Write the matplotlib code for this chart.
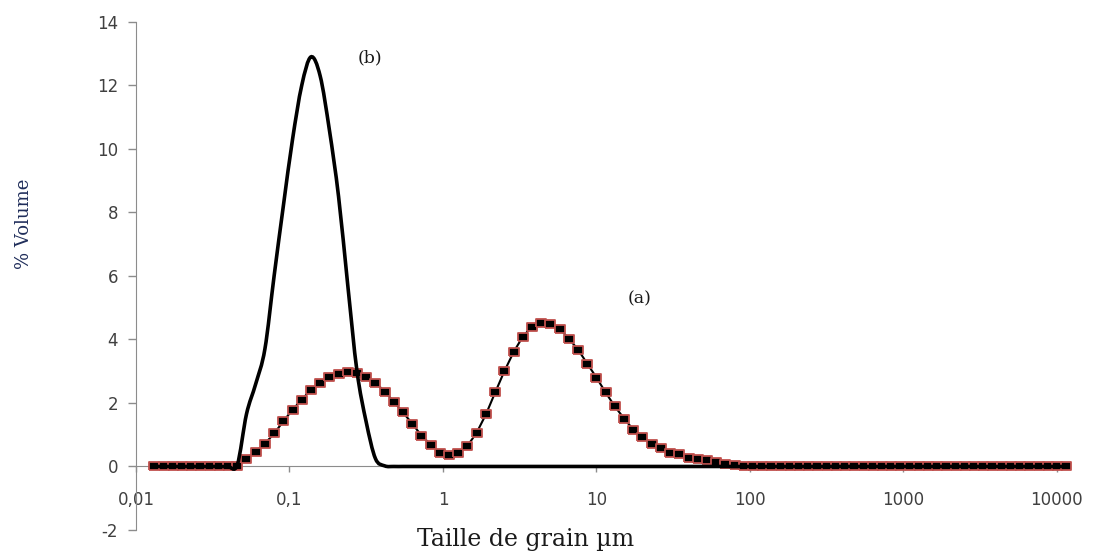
# -*- coding: utf-8 -*-
import matplotlib
matplotlib.use('Agg')
import matplotlib.pyplot as plt
import numpy as np
from matplotlib.path import Path
from matplotlib.patches import PathPatch
from matplotlib.ticker import FixedLocator, FixedFormatter, NullLocator

plt.rcParams['axes.unicode_minus'] = False

# classes de taille (µm), pas logarithmique
size_um = [
    0.01318, 0.01514, 0.01738, 0.01995, 0.02291, 0.02630, 0.03020, 0.03467, 0.03981, 0.04571,
    0.05248, 0.06026, 0.06918, 0.07943, 0.09120, 0.1047, 0.1202, 0.1380, 0.1585, 0.1820,
    0.2089, 0.2399, 0.2754, 0.3162, 0.3631, 0.4169, 0.4786, 0.5495, 0.6310, 0.7244,
    0.8318, 0.9550, 1.096, 1.259, 1.445, 1.660, 1.905, 2.188, 2.512, 2.884,
    3.311, 3.802, 4.365, 5.012, 5.754, 6.607, 7.586, 8.710, 10.00, 11.48,
    13.18, 15.14, 17.38, 19.95, 22.91, 26.30, 30.20, 34.67, 39.81, 45.71,
    52.48, 60.26, 69.18, 79.43, 91.20, 104.7, 120.2, 138.0, 158.5, 182.0,
    208.9, 239.9, 275.4, 316.2, 363.1, 416.9, 478.6, 549.5, 631.0, 724.4,
    831.8, 955.0, 1096, 1259, 1445, 1660, 1905, 2188, 2512, 2884,
    3311, 3802, 4365, 5012, 5754, 6607, 7586, 8710, 10000, 11482,
]

# courbe (a) : % volume
vol_a = [
    0, 0, 0, 0, 0, 0, 0, 0, 0, 0.03,
    0.25, 0.47, 0.72, 1.04, 1.42, 1.79, 2.10, 2.42, 2.64, 2.83,
    2.92, 2.96, 2.94, 2.83, 2.64, 2.36, 2.04, 1.70, 1.35, 0.97,
    0.69, 0.44, 0.35, 0.41, 0.65, 1.07, 1.64, 2.33, 3.00, 3.60,
    4.09, 4.40, 4.53, 4.50, 4.34, 4.03, 3.68, 3.24, 2.80, 2.33,
    1.89, 1.51, 1.16, 0.94, 0.72, 0.57, 0.44, 0.38, 0.28, 0.22,
    0.19, 0.13, 0.09, 0.06, 0.02, 0, 0, 0, 0, 0,
    0, 0, 0, 0, 0, 0, 0, 0, 0, 0,
    0, 0, 0, 0, 0, 0, 0, 0, 0, 0,
    0, 0, 0, 0, 0, 0, 0, 0, 0, 0,
]

# courbe (b) : % volume
vol_b = [
    0, 0, 0, 0, 0, 0, 0, 0, 0, 0.05,
    1.65, 2.6, 3.7, 6.0, 8.2, 10.3, 12.0, 12.9, 12.3, 10.6,
    8.5, 5.7, 3.0, 1.4, 0.25, 0.02, 0, 0, 0, 0,
    0, 0, 0, 0, 0, 0, 0, 0, 0, 0,
    0, 0, 0, 0, 0, 0, 0, 0, 0, 0,
    0, 0, 0, 0, 0, 0, 0, 0, 0, 0,
    0, 0, 0, 0, 0, 0, 0, 0, 0, 0,
    0, 0, 0, 0, 0, 0, 0, 0, 0, 0,
    0, 0, 0, 0, 0, 0, 0, 0, 0, 0,
    0, 0, 0, 0, 0, 0, 0, 0, 0, 0,
]

x_ticks = [0.01, 0.1, 1, 10, 100, 1000, 10000]
x_labels = ['0,01', '0,1', '1', '10', '100', '1000', '10000']
y_ticks = [-2, 0, 2, 4, 6, 8, 10, 12, 14]

axis_grey = '#8c8c8c'
text_grey = '#404040'
serif = 'DejaVu Serif'


def smooth_path(xs, ys):
    """ligne lissée (type Excel) : Catmull-Rom -> Bézier, en espace log(x)"""
    lx = np.log10(np.asarray(xs, float))
    y = np.asarray(ys, float)
    p = np.column_stack([lx, y])
    p = np.vstack([p[0], p, p[-1]])
    verts = [p[1]]
    codes = [Path.MOVETO]
    for i in range(1, len(p) - 2):
        c1 = p[i] + (p[i + 1] - p[i - 1]) / 6.0
        c2 = p[i + 1] - (p[i + 2] - p[i]) / 6.0
        verts += [c1, c2, p[i + 1]]
        codes += [Path.CURVE4] * 3
    verts = np.array(verts)
    verts[:, 0] = 10 ** verts[:, 0]
    return Path(verts, codes)


fig = plt.figure(figsize=(10.93, 5.52), dpi=100)
ax = fig.add_axes([0.1244, 0.0399, 0.8426, 0.9203])

# (a) carrés noirs bordés de rouge
box = [(-1.25, -1), (1.25, -1), (1.25, 1), (-1.25, 1), (-1.25, -1)]
ax.plot(size_um, vol_a, color='black', lw=1.5, marker=box, markersize=7.6,
        markerfacecolor='black', markeredgecolor='#c0504d', markeredgewidth=1.3,
        clip_on=False, zorder=3)

ax.set_xscale('log')
ax.set_xlim(0.01, 10000)
ax.set_ylim(-2, 14)

# (b) trait noir épais, lissé
ax.add_patch(PathPatch(smooth_path(size_um, vol_b), fill=False, edgecolor='black',
                       lw=2.6, clip_on=False, zorder=4))

ax.xaxis.set_major_locator(FixedLocator(x_ticks))
ax.xaxis.set_major_formatter(FixedFormatter(x_labels))
ax.xaxis.set_minor_locator(NullLocator())
ax.set_yticks(y_ticks)

for side in ['top', 'right']:
    ax.spines[side].set_visible(False)
ax.spines['bottom'].set_position(('data', 0))
ax.spines['bottom'].set_color(axis_grey)
ax.spines['left'].set_color(axis_grey)

ax.tick_params(axis='x', direction='out', length=4.5, width=1, color=axis_grey,
               pad=13, labelsize=12, labelcolor=text_grey)
ax.tick_params(axis='y', direction='out', length=6, width=1, color=axis_grey,
               pad=7, labelsize=12, labelcolor=text_grey)

# étiquettes
fig.text(0.022, 0.594, '% Volume', rotation=90, ha='center', va='center',
         family=serif, fontsize=13, color='#1f2d5a')
fig.text(0.481, 0.022, 'Taille de grain µm', ha='center', va='center',
         family=serif, fontsize=17, color='#1a1a1a')
ax.text(0.333, 12.86, '(b)', ha='center', va='center', family=serif,
        fontsize=12.5, color='#1a1a1a')
ax.text(19.1, 5.28, '(a)', ha='center', va='center', family=serif,
        fontsize=12.5, color='#1a1a1a')

fig.savefig('out.png', dpi=100)
